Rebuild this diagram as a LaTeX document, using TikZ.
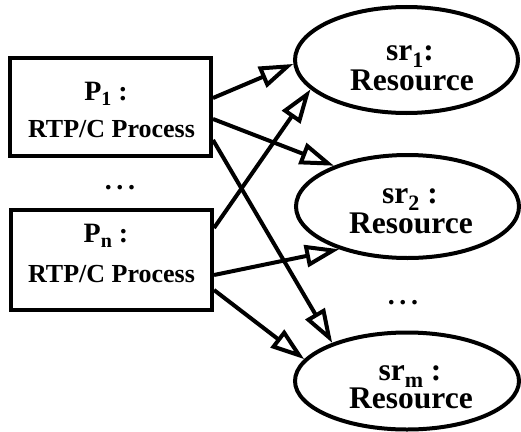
\documentclass[tikz,border=0pt]{standalone}
\usepackage{fontspec}
\setmainfont{Liberation Serif}
\usetikzlibrary{arrows.meta,shapes.geometric,calc}
\newcommand\psub[1]{\smash{\raisebox{-5pt}{\fontsize{20pt}{20pt}\selectfont #1}}}
\newcommand\rsub[1]{\smash{\raisebox{-7pt}{\fontsize{22pt}{22pt}\selectfont #1}}}
\begin{document}
\begin{tikzpicture}[x=1pt,y=-1pt,
  procbox/.style={draw,line width=4pt,minimum width=201pt,minimum height=98pt,inner sep=0pt},
  resnode/.style={draw,ellipse,line width=4pt,inner sep=0pt},
  lbl/.style={anchor=base,inner sep=0pt,font=\bfseries},
  plbl/.style={lbl,font=\bfseries\fontsize{28pt}{28pt}\selectfont},
  tlbl/.style={lbl,font=\bfseries\fontsize{26pt}{26pt}\selectfont},
  rlbl/.style={lbl,font=\bfseries\fontsize{31.5pt}{31.5pt}\selectfont},
  conn/.style={line width=4pt,line join=miter,-{Triangle[open,length=34pt,width=22pt]}}]
\useasboundingbox (0,0) rectangle (521,431);
% process boxes
\node[procbox] (p1) at (110.5,107) {};
\node[procbox,minimum height=100pt] (pn) at (111.5,260) {};
\node[plbl] (p1a) at (106,100) {P\psub{1} :};
\node[tlbl] (p1b) at (111.5,137) {RTP/C Process};
\node[plbl] (pna) at (106,242) {P\psub{n} :};
\node[tlbl] (pnb) at (111.5,282) {RTP/C Process};
\node[plbl] (pdots) at (120,189) {.\,.\,.};
% resources
\node[resnode,minimum width=223pt,minimum height=106pt] (sr1) at (406.5,60) {};
\node[resnode,minimum width=223pt,minimum height=103pt] (sr2) at (407.5,206.5) {};
\node[resnode,minimum width=224pt,minimum height=97pt] (srm) at (407,381) {};
\node[rlbl] (sr1a) at (410,60) {sr\rsub{1}:};
\node[rlbl] (sr1b) at (412,90) {Resource};
\node[rlbl] (sr2a) at (410,203) {sr\rsub{2} :};
\node[rlbl] (sr2b) at (411,233) {Resource};
\node[rlbl] (srma) at (410,380) {sr\rsub{m} :};
\node[rlbl] (srmb) at (411,408) {Resource};
\node[plbl] (rdots) at (403,304) {.\,.\,.};
% connectors
\draw[conn] ($(p1.north east)+(0,42)$) -- (sr1.182);
\draw[conn] ($(p1.north east)+(0,63)$) -- (sr2.151);
\draw[conn] ($(p1.north east)+(0,84)$) -- (srm.153);
\draw[conn] ($(pn.north east)+(0,20)$) -- (sr1.197);
\draw[conn] ($(pn.north east)+(0,67)$) -- (sr2.212);
\draw[conn] ($(pn.north east)+(0,82)$) -- (srm.168);
\end{tikzpicture}
\end{document}
